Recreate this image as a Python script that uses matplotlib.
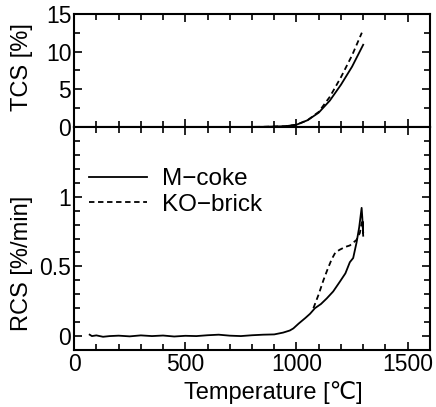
import matplotlib.pyplot as plt
from matplotlib.ticker import MultipleLocator, FixedLocator

plt.rcParams['font.family'] = ['Liberation Sans', 'DejaVu Sans']

# TCS (top panel)
tcs_t_coke = [0, 700, 850, 950, 1000, 1050, 1100, 1150, 1200, 1250, 1300]
tcs_coke = [0, 0, 0.02, 0.1, 0.3, 0.9, 1.9, 3.5, 5.6, 8.0, 10.9]
tcs_t_brick = [0, 700, 850, 950, 1000, 1050, 1100, 1150, 1200, 1250, 1294]
tcs_brick = [0, 0, 0.02, 0.1, 0.3, 0.9, 2.0, 4.0, 6.6, 9.5, 12.5]

# RCS (bottom panel)
rcs_t_coke = [70, 80, 100, 130, 160, 200, 250, 300, 350, 400, 450, 500, 550,
              600, 650, 700, 750, 800, 850, 900, 940, 970, 986, 1010, 1040,
              1061, 1083, 1110, 1136, 1165, 1195, 1220, 1240, 1255, 1270,
              1282, 1293, 1296, 1300, 1297, 1300]
rcs_coke = [0.01, 0.0, 0.005, -0.005, 0.0, 0.003, -0.002, 0.005, 0.0, 0.004,
            -0.003, 0.002, 0.0, 0.006, 0.01, 0.003, 0.0, 0.006, 0.01, 0.012,
            0.025, 0.04, 0.055, 0.09, 0.13, 0.16, 0.2, 0.23, 0.27, 0.32, 0.39,
            0.45, 0.53, 0.56, 0.67, 0.78, 0.92, 0.85, 0.74, 0.82, 0.72]
rcs_t_brick = [1076, 1100, 1121, 1140, 1158, 1175, 1195, 1220, 1240, 1255,
               1270, 1285, 1293]
rcs_brick = [0.2, 0.3, 0.40, 0.48, 0.55, 0.60, 0.62, 0.64, 0.65, 0.67, 0.69,
             0.74, 0.81]

fig = plt.figure(figsize=(4.36, 4.07), dpi=100)
ax1 = fig.add_axes([0.170, 0.688, 0.816, 0.278])
ax2 = fig.add_axes([0.170, 0.140, 0.816, 0.548], sharex=ax1)

ax1.plot(tcs_t_coke, tcs_coke, color='black', lw=1.3, ls='-')
ax1.plot(tcs_t_brick, tcs_brick, color='black', lw=1.3, ls=(0, (3, 2)))
ax2.plot(rcs_t_coke, rcs_coke, color='black', lw=1.3, ls='-', label='M\u2212coke')
ax2.plot(rcs_t_brick, rcs_brick, color='black', lw=1.3, ls=(0, (3, 2)),
         label='KO\u2212brick')

ax1.set_xlim(0, 1600)
ax1.set_ylim(0, 15)
ax2.set_ylim(-0.1, 1.5)

ax2.xaxis.set_major_locator(FixedLocator([0, 500, 1000, 1500]))
ax2.xaxis.set_minor_locator(MultipleLocator(100))
ax1.yaxis.set_major_locator(MultipleLocator(5))
ax1.yaxis.set_minor_locator(MultipleLocator(2.5))
ax2.yaxis.set_major_locator(FixedLocator([0, 0.5, 1]))
ax2.yaxis.set_minor_locator(MultipleLocator(0.1))
ax2.set_yticklabels(['0', '0.5', '1'])

for ax in (ax1, ax2):
    ax.tick_params(which='both', direction='in', top=True, right=True,
                   labelsize=16.5, width=1.2)
    ax.tick_params(which='major', length=6, pad=2)
    ax.tick_params(which='minor', length=4)
    for s in ax.spines.values():
        s.set_linewidth(1.5)
ax1.tick_params(labelbottom=False)

ax1.set_ylabel('TCS [%]', fontsize=17)
ax2.set_ylabel('RCS [%/min]', fontsize=17)
ax2.set_xlabel('Temperature [\u2103]', fontsize=17)
ax1.yaxis.set_label_coords(-0.115, 0.53)
ax2.yaxis.set_label_coords(-0.115, 0.39)
ax2.xaxis.set_label_coords(0.56, -0.14)

ax2.legend(loc='upper left', bbox_to_anchor=(0.0, 0.88), frameon=False,
           fontsize=17.5, handlelength=2.4, handletextpad=0.6, labelspacing=0.15,
           borderaxespad=0.2)

fig.savefig('out.png', dpi=100)
